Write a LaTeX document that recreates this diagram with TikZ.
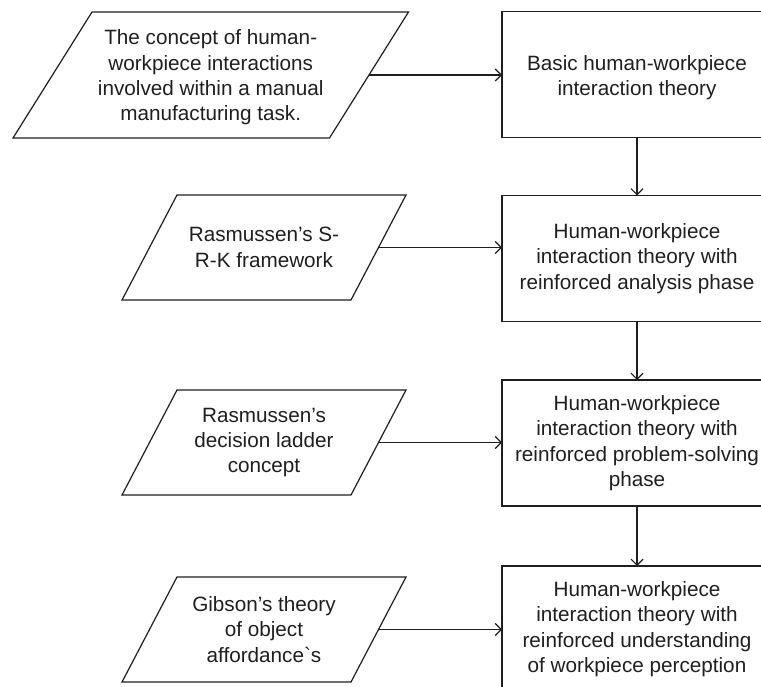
\documentclass[tikz,border=0pt]{standalone}
\usepackage{fontspec}
\setmainfont{Liberation Sans}
\usetikzlibrary{arrows.meta}
\begin{document}
\begin{tikzpicture}[x=1pt,y=-1pt,
  every node/.style={font=\fontsize{20.7}{25.3}\selectfont, align=center,
    inner sep=0pt, outer sep=0pt, text=black!88},
  outline/.style={draw=black!88, line width=1.2pt, line join=miter},
  stage/.style={outline, minimum width=270pt, minimum height=126pt},
  % input nodes: the rectangle spans the mid-points of the slanted sides
  source/.style={minimum width=229pt, minimum height=105pt},
  flow/.style={draw=black!88, line width=1.2pt, -{Straight Barb[length=6pt,width=12pt]}}
]
\useasboundingbox (0,0) rectangle (761,687);
\clip (0,0) rectangle (761,687);

% theory stages (right column)
\node[stage] (b1) at (637,74.5) {\rule{0pt}{21pt}Basic human-workpiece\\interaction theory};
\node[stage] (b2) at (637,258.5) {Human-workpiece\\interaction theory with\\reinforced analysis phase};
\node[stage] (b3) at (637,443) {Human-workpiece\\interaction theory with\\reinforced problem-solving\\phase};
\node[stage] (b4) at (637,629) {Human-workpiece\\interaction theory with\\reinforced understanding\\of workpiece perception};

% inputs (left column)
\node[source, minimum width=316.5pt, minimum height=126pt] (p1) at (210.75,75)
  {\rule{0pt}{20pt}The concept of human-\\workpiece interactions\\involved within a manual\\manufacturing task.};
\node[source] (p2) at (264,247.5) {Rasmussen’s S-\\R-K framework};
\node[source] (p3) at (264,442.5) {Rasmussen’s\\decision ladder\\concept};
\node[source] (p4) at (264,629.5) {Gibson’s theory\\of object\\affordance\textasciigrave s};

% parallelogram outlines of the inputs (half of the horizontal slant)
\foreach \n/\s in {p1/39.5, p2/27.5, p3/27.5, p4/27.5}
  \draw[outline] ([xshift=\s]\n.north west) -- ([xshift=\s]\n.north east)
    -- ([xshift=-\s]\n.south east) -- ([xshift=-\s]\n.south west) -- cycle;

% connectors
\draw[flow] (p1.east) -- (p1.east -| b1.west);
\draw[flow] (p2.east) -- (p2.east -| b2.west);
\draw[flow] (p3.east) -- (p3.east -| b3.west);
\draw[flow] (p4.east) -- (p4.east -| b4.west);
\draw[flow] (b1.south) -- (b2.north);
\draw[flow] (b2.south) -- (b3.north);
\draw[flow] (b3.south) -- (b4.north);
\end{tikzpicture}
\end{document}
